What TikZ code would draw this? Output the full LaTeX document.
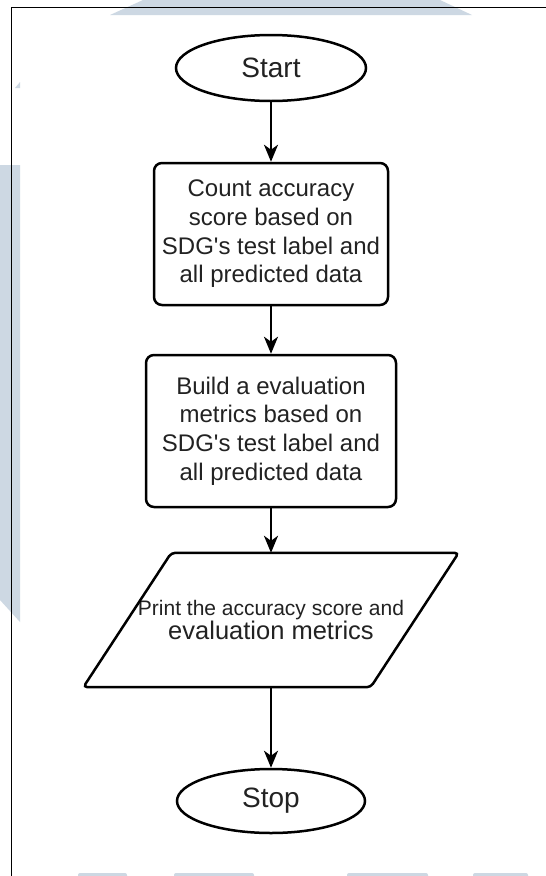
\documentclass[tikz,border=0pt]{standalone}
\usepackage{fontspec}
\setmainfont{Liberation Sans}[Ligatures=TeXOff]
\usetikzlibrary{arrows.meta,shapes.geometric,calc}
\definecolor{wmark}{HTML}{CDD8E3}
\definecolor{ink}{HTML}{222222}
\tikzset{
  flowline/.style={line width=2.5pt, draw=black},
  terminal/.style={flowline, ellipse, minimum width=190pt, minimum height=66pt, inner sep=0pt,
    text=ink, font=\fontsize{28}{32}\selectfont},
  process/.style={flowline, rectangle, rounded corners=8pt, inner sep=0pt, align=center,
    text=ink, font=\fontsize{24}{28.7}\selectfont},
  iobox/.style={rectangle, minimum width=375pt, minimum height=134pt,
    inner sep=0pt, align=center, text=ink},
  flowarrow/.style={flowline, -{Stealth[length=17pt, width=14pt, inset=5pt]}}
}
\begin{document}
\begin{tikzpicture}[x=1pt, y=-1pt]
\useasboundingbox (0,0) rectangle (546,876);
\fill[white] (0,0) rectangle (546,876);

% faint background marks
\fill[wmark] (110,15) -- (143,0) -- (440,0) -- (472,15) -- cycle;
\fill[wmark] (0,165) -- (20,165) -- (20,622) -- (0,600) -- cycle;
\fill[wmark] (15,88) -- (20,82) -- (20,88) -- cycle;
\fill[wmark, rounded corners=2pt] (78,877) -- (78,873) -- (127,873) -- (127,877);
\fill[wmark, rounded corners=2pt] (174,877) -- (174,873) -- (254,873) -- (254,877);
\fill[wmark, rounded corners=2pt] (347,877) -- (347,873) -- (428,873) -- (428,877);
\fill[wmark, rounded corners=2pt] (473,877) -- (473,873) -- (528,873) -- (528,877);

% page frame
\draw[line width=1.5pt] (11.5,877) -- (11.5,7.5) -- (547,7.5);

% flowchart
\node[terminal] (start) at (271,68) {Start};
\node[process, minimum width=234pt, minimum height=142pt] (count) at (271,234)
  {Count accuracy\\score based on\\SDG's test label and\\all predicted data};
\node[process, minimum width=250pt, minimum height=152pt] (build) at (271,431)
  {Build a evaluation\\metrics based on\\SDG's test label and\\all predicted data};
\node[iobox] (print) at (271,620)
  {\fontsize{21}{28}\selectfont Print the accuracy score and\\
   \fontsize{25.5}{28}\selectfont evaluation metrics};
% slanted outline of the output step
\draw[flowline, rounded corners=4pt]
  (print.south west) -- ($(print.north west)+(88,0)$) -- (print.north east)
  -- ($(print.south east)+(-88,0)$) -- cycle;
\node[terminal, minimum width=188pt, minimum height=64pt] (stop) at (271,801) {Stop};

\draw[flowarrow] (start) -- (count);
\draw[flowarrow] (count) -- (build);
\draw[flowarrow] (build) -- (print);
\draw[flowarrow] (print) -- (stop);
\end{tikzpicture}
\end{document}
